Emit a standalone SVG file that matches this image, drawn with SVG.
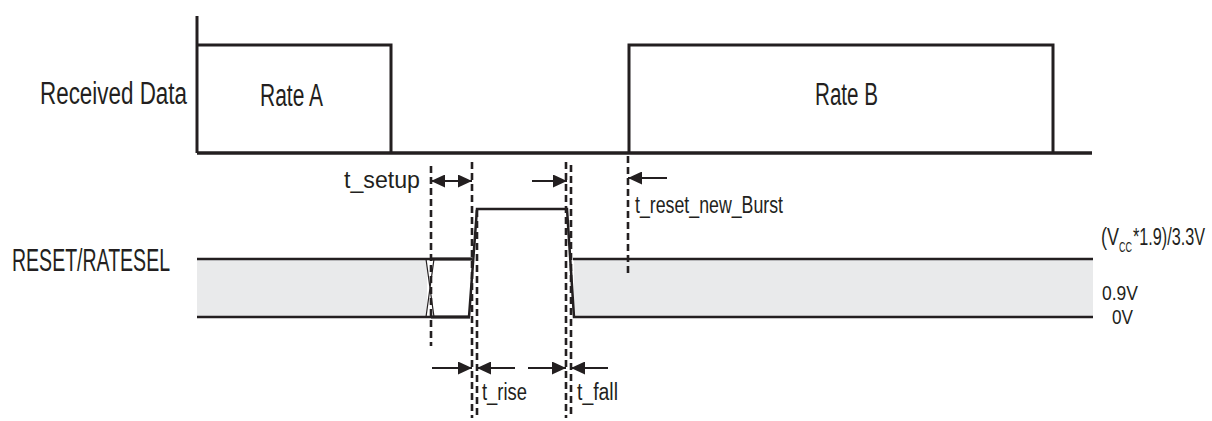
<svg xmlns="http://www.w3.org/2000/svg" width="1212" height="421" viewBox="0 0 1212 421">
<style>
.sig{fill:none;stroke:#231f20;stroke-width:3;stroke-linejoin:miter}
.lvl{fill:none;stroke:#231f20;stroke-width:2.5}
.thin{fill:none;stroke:#231f20;stroke-width:1.2}
.band{fill:#e9eaeb;stroke:none}
.dash{fill:none;stroke:#231f20;stroke-width:2.6;stroke-dasharray:7 4}
.arr{fill:none;stroke:#231f20;stroke-width:2}
text{font-family:"Liberation Sans Narrow","Liberation Sans",Arial,sans-serif;fill:#231f20}
.big{font-size:31px}
.sm{font-size:23px}
.lv{font-size:21px}
</style>
<defs>
<marker id="ah" markerUnits="userSpaceOnUse" markerWidth="15" markerHeight="13" refX="14" refY="6.5" orient="auto-start-reverse" viewBox="0 0 15 13">
<path d="M0,0 L14,6.5 L0,13 Z" fill="#231f20"/>
</marker>
</defs>
<rect width="1212" height="421" fill="#ffffff"/>

<g id="received-data">
<text class="big" x="40" y="104" textLength="147" lengthAdjust="spacingAndGlyphs">Received Data</text>
<path class="sig" d="M197,16 V153"/>
<path class="sig" d="M197,45 H391 V153"/>
<path class="sig" d="M629,153 V45 H1053 V153"/>
<path class="sig" d="M197,153 H1092" style="stroke-width:3.5"/>
<text class="big" x="260" y="106" textLength="63" lengthAdjust="spacingAndGlyphs">Rate A</text>
<text class="big" x="815" y="105" textLength="63" lengthAdjust="spacingAndGlyphs">Rate B</text>
</g>

<g id="reset-ratesel">
<text class="big" x="12" y="271" textLength="158" lengthAdjust="spacingAndGlyphs">RESET/RATESEL</text>
<rect class="band" x="197" y="259" width="230" height="58"/>
<rect class="band" x="574" y="259" width="519" height="58"/>
<path class="lvl" d="M197,259 H472"/>
<path class="lvl" d="M197,317 H470"/>
<path class="sig" d="M431,259 H472 M431,317 H470"/>
<path class="thin" d="M426,259 L434,317 M434,259 L426,317"/>
<path class="lvl" d="M469,317 L477,209 H567 L574,317 H1093"/>
<path class="lvl" d="M573,259 H1093"/>
<text class="sm" y="245"><tspan x="1101" textLength="18" lengthAdjust="spacingAndGlyphs">(V</tspan><tspan x="1119" dy="7" font-size="15" textLength="13" lengthAdjust="spacingAndGlyphs">CC</tspan><tspan x="1133" dy="-7" textLength="72" lengthAdjust="spacingAndGlyphs">*1.9)/3.3V</tspan></text>
<text class="lv" x="1102" y="300" textLength="36" lengthAdjust="spacingAndGlyphs">0.9V</text>
<text class="lv" x="1112" y="324" textLength="21" lengthAdjust="spacingAndGlyphs">0V</text>
</g>

<g id="connectors">
<path class="dash" d="M431,166 V346"/>
<path class="dash" d="M472,162 V418"/>
<path class="dash" d="M477,210 V418"/>
<path class="dash" d="M566,162 V418"/>
<path class="dash" d="M571,165 V418"/>
<path class="dash" d="M628,156 V276"/>
<path class="arr" d="M431,181 H472" marker-start="url(#ah)" marker-end="url(#ah)"/>
<path class="arr" d="M532,181 H567" marker-end="url(#ah)"/>
<path class="arr" d="M667,178 H628" marker-end="url(#ah)"/>
<path class="arr" d="M432,368 H472" marker-end="url(#ah)"/>
<path class="arr" d="M515,368 H477" marker-end="url(#ah)"/>
<path class="arr" d="M528,368 H566" marker-end="url(#ah)"/>
<path class="arr" d="M608,368 H571" marker-end="url(#ah)"/>
</g>

<g id="timing-labels">
<text class="sm" x="344" y="188" textLength="76" lengthAdjust="spacingAndGlyphs">t_setup</text>
<text class="sm" x="635" y="213" textLength="148" lengthAdjust="spacingAndGlyphs">t_reset_new_Burst</text>
<text class="sm" x="482" y="400" textLength="45" lengthAdjust="spacingAndGlyphs">t_rise</text>
<text class="sm" x="577" y="400" textLength="41" lengthAdjust="spacingAndGlyphs">t_fall</text>
</g>
</svg>
